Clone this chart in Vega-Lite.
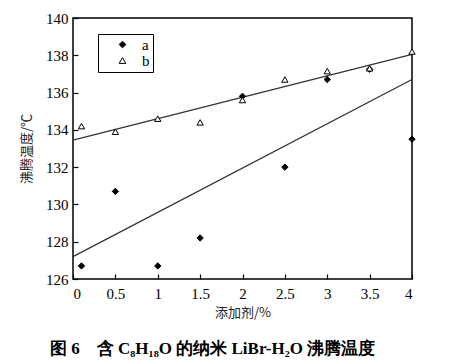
{
  "$schema": "https://vega.github.io/schema/vega-lite/v6.json",
  "autosize": "none",
  "width": 339,
  "height": 261,
  "padding": {"left": 73, "top": 18, "right": 53, "bottom": 85},
  "background": "white",
  "config": {
    "view": {"stroke": "black", "strokeWidth": 1.5},
    "axis": {"labelFont": "Liberation Serif", "labelFontSize": 15, "labelColor": "black", "labelOverlap": false, "titleFont": "Noto Sans CJK SC", "titleFontSize": 13, "titleFontWeight": "normal", "titleColor": "#222", "domain": false, "grid": false, "tickColor": "black", "tickSize": -5, "tickWidth": 1.2},
    "legend": {"title": null, "orient": "none", "legendX": 25, "legendY": 16, "strokeColor": "black", "padding": 3, "labelFont": "Liberation Serif", "labelFontSize": 15, "labelColor": "black", "symbolStrokeWidth": 1, "symbolSize": 45, "labelOffset": 12, "rowPadding": 0, "symbolOffset": 14, "labelLimit": 40}
  },
  "title": {"text": "图 6\u2003含 C₈H₁₈O 的纳米 LiBr-H₂O 沸腾温度", "orient": "bottom", "anchor": "start", "frame": "group", "dx": -23, "offset": 22, "font": "Liberation Serif", "fontSize": 17, "fontWeight": "bold", "color": "black"},
  "datasets": {
    "pts": [
      {"x": 0.1, "y": 126.7, "s": "a"},
      {"x": 0.5, "y": 130.7, "s": "a"},
      {"x": 1.0, "y": 126.7, "s": "a"},
      {"x": 1.5, "y": 128.2, "s": "a"},
      {"x": 2.0, "y": 135.8, "s": "a"},
      {"x": 2.5, "y": 132.0, "s": "a"},
      {"x": 3.0, "y": 136.7, "s": "a"},
      {"x": 3.5, "y": 137.25, "s": "a"},
      {"x": 4.0, "y": 133.5, "s": "a"},
      {"x": 0.1, "y": 134.2, "s": "b"},
      {"x": 0.5, "y": 133.9, "s": "b"},
      {"x": 1.0, "y": 134.6, "s": "b"},
      {"x": 1.5, "y": 134.4, "s": "b"},
      {"x": 2.0, "y": 135.6, "s": "b"},
      {"x": 2.5, "y": 136.7, "s": "b"},
      {"x": 3.0, "y": 137.15, "s": "b"},
      {"x": 3.5, "y": 137.3, "s": "b"},
      {"x": 4.0, "y": 138.2, "s": "b"}
    ],
    "fits": [
      {"x": 0, "y": 127.2, "s": "a"},
      {"x": 4, "y": 136.7, "s": "a"},
      {"x": 0, "y": 133.45, "s": "b"},
      {"x": 4, "y": 138.05, "s": "b"}
    ]
  },
  "layer": [
    {
      "data": {"name": "fits"},
      "mark": {"type": "line", "color": "#333", "strokeWidth": 1.3},
      "encoding": {
        "x": {"field": "x", "type": "quantitative", "scale": {"domain": [0, 4]}, "axis": {"values": [0, 0.5, 1, 1.5, 2, 2.5, 3, 3.5, 4], "tickCount": 9, "format": "~g", "title": "添加剂/%", "titlePadding": 5, "labelPadding": 12}},
        "y": {"field": "y", "type": "quantitative", "scale": {"domain": [126, 140]}, "axis": {"values": [126, 128, 130, 132, 134, 136, 138, 140], "tickCount": 8, "title": "沸腾温度/℃", "titlePadding": 12, "labelPadding": 10}},
        "detail": {"field": "s"}
      }
    },
    {
      "data": {"name": "pts"},
      "mark": {"type": "point", "filled": true, "strokeWidth": 1, "size": 40, "opacity": 1},
      "encoding": {
        "x": {"field": "x", "type": "quantitative"},
        "y": {"field": "y", "type": "quantitative"},
        "shape": {"field": "s", "type": "nominal", "scale": {"domain": ["a", "b"], "range": ["diamond", "triangle-up"]}},
        "fill": {"field": "s", "type": "nominal", "scale": {"domain": ["a", "b"], "range": ["black", "white"]}},
        "stroke": {"field": "s", "type": "nominal", "scale": {"domain": ["a", "b"], "range": ["black", "black"]}}
      }
    }
  ]
}
